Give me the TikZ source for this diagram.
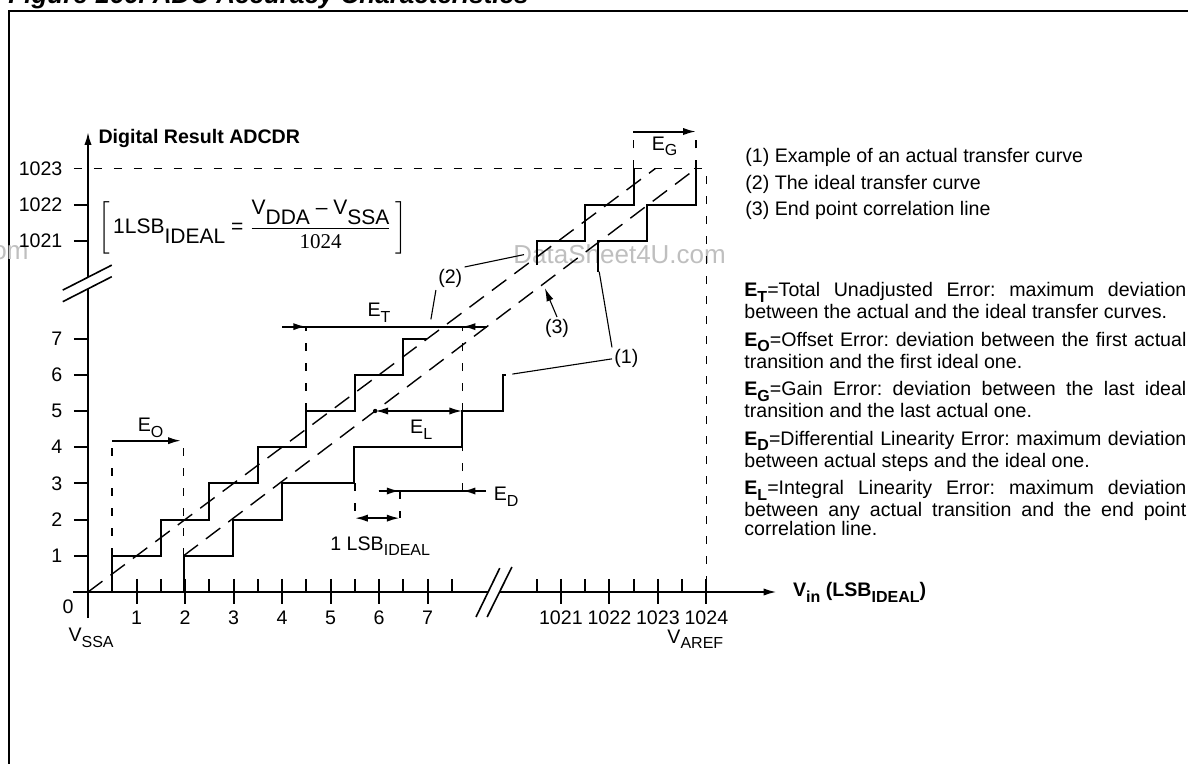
\documentclass[tikz,border=0pt]{standalone}
\usepackage{amsmath}
\usepackage{fontspec}
\setmainfont{Liberation Sans}
\newfontfamily\serifdigits{Liberation Serif}
\usetikzlibrary{arrows.meta}
\frenchspacing
\newcommand{\lo}[1]{\raisebox{-2.8pt}{\fontsize{8}{8}\selectfont #1}}
\newcommand{\dn}[1]{\raisebox{-5pt}{#1}}
\tikzset{
	stair/.style = {line width = 1pt},
	guide/.style = {line width = 0.8pt, dash pattern = on 4pt off 6pt},
	slope/.style = {line width = 0.7pt, dash pattern = on 9pt off 5pt},
	leader/.style = {line width = 0.55pt},
	headed/.style = {-{Latex[length = 6.5pt, width = 3.6pt]}},
	twoheaded/.style = {{Latex[length = 6.5pt, width = 3.6pt]}-{Latex[length = 6.5pt, width = 3.6pt]}},
	watermark/.style = {text = black!25, inner sep = 0, font = \fontsize{13}{13}\selectfont},
	curvelabel/.style = {inner sep = 1pt}
}
\begin{document}
\begin{tikzpicture}[x = 0.5pt, y = -0.5pt, font = \fontsize{9.8}{10}\selectfont]
	\useasboundingbox (0,0) rectangle (1188,764);
	% frame and title
	\draw [line width = 1pt] (9,790) -- (9,11) -- (1210,11);
	\node [anchor = base west, inner sep = 0, font = \fontsize{13}{13}\selectfont\bfseries\itshape] (title) at (8,3.3) {Figure 166. ADC Accuracy Characteristics};
	% watermark
	\node [watermark, anchor = base west] (site) at (513,263.5) {DataSheet4U.com};
	\node [watermark, anchor = base east] (siteleft) at (29,260) {DataSheet4U.com};
	% formula
	\node [font = \fontsize{10.5}{12}\selectfont] (lsb) at (252.5,227.5) {$\left[\,\text{1LSB\dn{IDEAL} = }\dfrac{\text{V\dn{DDA} -- V\dn{SSA}}}{\text{\serifdigits 1024}}\,\right]$};
	% legend
	\node [anchor = base west, inner sep = 0] (key1) at (745,163) {(1) Example of an actual transfer curve};
	\node [anchor = base west, inner sep = 0] (key2) at (745,189.5) {(2) The ideal transfer curve};
	\node [anchor = base west, inner sep = 0] (key3) at (745,216) {(3) End point correlation line};
	% error definitions
	\node [anchor = base west, inner sep = 0] (errors) at (744,296.7) {\parbox[t]{221pt}{\fontsize{9.8}{9.5}\selectfont\setlength{\parskip}{4.3pt}\tolerance=10000 \hyphenpenalty=10000
		\textbf{E\lo{T}}=Total Unadjusted Error: maximum deviation\linebreak between the actual and the ideal transfer curves.\par
		\textbf{E\lo{O}}=Offset Error: deviation between the first actual\linebreak transition and the first ideal one.\par
		\textbf{E\lo{G}}=Gain Error: deviation between the last ideal\linebreak transition and the last actual one.\par
		\textbf{E\lo{D}}=Differential Linearity Error: maximum deviation\linebreak between actual steps and the ideal one.\par
		\textbf{E\lo{L}}=Integral Linearity Error: maximum deviation\linebreak between any actual transition and the end point\linebreak correlation line.}};
	\begin{scope}[shift = {(88,592)}, x = 24.25pt, y = 18.1pt]
	% axes with breaks
	\draw [line width = 1pt] (-0.31,0) -- (8.25,0);
	\draw [line width = 1pt, headed] (8.48,0) -- (14.2,0);
	\draw [line width = 1pt] (0,-0.72) -- (0,8.37);
	\draw [line width = 1pt, headed] (0,8.71) -- (0,12.71);
	\draw [line width = 0.8pt] (8,-0.69) -- (8.49,0.66);
	\draw [line width = 0.8pt] (8.23,-0.69) -- (8.74,0.69);
	\draw [line width = 0.8pt] (-0.52,8.34) -- (0.49,9.03);
	\draw [line width = 0.8pt] (-0.52,8.02) -- (0.49,8.71);
	% ticks and numbers
	\foreach \x in {1,...,7} {
		\draw [line width = 1pt] (\x,0.36) -- (\x,-0.33);
		\node (tx\x) at (\x,-0.72) {\x};
	}
	\foreach \x/\n in {9.75/1021, 10.75/1022, 11.75/1023, 12.75/1024} {
		\draw [line width = 1pt] (\x,0.36) -- (\x,-0.33);
		\node (tx\n) at (\x,-0.72) {\n};
	}
	\foreach \x in {0.5,1.5,...,7.5}
		\draw [line width = 1pt] (\x,0) -- (\x,0.36);
	\foreach \x in {9.25,10.25,11.25,12.25}
		\draw [line width = 1pt] (\x,0) -- (\x,0.36);
	\foreach \y in {1,...,7} {
		\draw [line width = 1pt] (-0.29,\y) -- (0,\y);
		\node [anchor = east, inner sep = 0] (ty\y) at (-0.52,\y) {\y};
	}
	\foreach \y/\n in {9.7/1021, 10.7/1022} {
		\draw [line width = 1pt] (-0.29,\y) -- (0,\y);
		\node [anchor = east, inner sep = 0] (ty\n) at (-0.52,\y) {\n};
	}
	\node [anchor = east, inner sep = 0] (ty1023) at (-0.52,11.7) {1023};
	\node (zero) at (-0.41,-0.41) {0};
	\node [anchor = base west, inner sep = 0] (vssa) at (-0.41,-1.38) {V\lo{SSA}};
	\node [anchor = base west, inner sep = 0] (varef) at (11.94,-1.41) {V\lo{AREF}};
	\node [anchor = base west, inner sep = 0, font = \fontsize{9.8}{10}\selectfont\bfseries] (ylabel) at (0.21,12.39) {Digital Result ADCDR};
	\node [anchor = base west, inner sep = 0, font = \fontsize{9.8}{10}\selectfont\bfseries] (xlabel) at (14.53,-0.13) {V\lo{in} (LSB\lo{IDEAL})};
	% full scale and straight lines
	\draw [guide] (-0.29,11.7) -- (12.75,11.7) -- (12.75,0);
	\draw [slope] (0,0) -- (11.7,11.7);
	\draw [slope] (1.97,1) -- (12.54,11.7);
	% guides of the error arrows
	\draw [guide] (0.5,1) -- (0.5,4.18);
	\draw [guide] (1.97,1) -- (1.97,4.18);
	\draw [guide] (4.5,5) -- (4.5,7.33);
	\draw [guide] (7.72,2.79) -- (7.72,7.33);
	\draw [guide] (5.5,3) -- (5.5,2.04);
	\draw [guide] (6.43,2.79) -- (6.43,2.04);
	\draw [guide] (11.25,11.7) -- (11.25,12.72);
	\draw [guide] (12.54,11.7) -- (12.54,12.72);
	% ideal curve
	\draw [stair] (0.5,0) -- (0.5,1) -- (1.5,1) -- (1.5,2) -- (2.5,2) -- (2.5,3) -- (3.5,3) -- (3.5,4) -- (4.5,4) -- (4.5,5) -- (5.5,5) -- (5.5,6) -- (6.5,6) -- (6.5,7) -- (6.98,7);
	\draw [stair] (9.25,9.03) -- (9.25,9.7) -- (10.25,9.7) -- (10.25,10.7) -- (11.25,10.7) -- (11.25,11.7);
	% actual curve
	\draw [stair] (1.97,0) -- (1.97,1) -- (2.98,1) -- (2.98,2) -- (3.99,2) -- (3.99,3) -- (5.48,3) -- (5.48,4) -- (7.72,4) -- (7.72,5) -- (8.55,5) -- (8.55,6) -- (8.62,6);
	\draw [stair] (10.52,8.84) -- (10.52,9.7) -- (11.53,9.7) -- (11.53,10.7) -- (12.54,10.7) -- (12.54,11.7);
	% error arrows
	\draw [line width = 1pt, headed] (0.5,4.18) -- (1.92,4.18);
	\node [anchor = base] (eo) at (1.29,4.43) {E\lo{O}};
	\draw [line width = 1pt] (4.01,7.33) -- (8.22,7.33);
	\draw [line width = 1pt, headed] (4.01,7.33) -- (4.5,7.33);
	\draw [line width = 1pt, headed] (8.22,7.33) -- (7.72,7.33);
	\node [anchor = base] (et) at (6,7.6) {E\lo{T}};
	\fill (5.92,5) circle (1.1pt);
	\draw [line width = 1pt, twoheaded] (5.92,5) -- (7.72,5);
	\node [anchor = base] (el) at (6.87,4.38) {E\lo{L}};
	\draw [line width = 1pt] (5.99,2.79) -- (8.21,2.79);
	\draw [line width = 1pt, headed] (5.99,2.79) -- (6.43,2.79);
	\draw [line width = 1pt, headed] (8.21,2.79) -- (7.72,2.79);
	\node [anchor = base west, inner sep = 0] (ed) at (8.36,2.52) {E\lo{D}};
	\draw [line width = 1pt, twoheaded] (5.5,2.04) -- (6.43,2.04);
	\node [anchor = base west, inner sep = 0] (lsbunit) at (4.99,1.16) {1 LSB\lo{IDEAL}};
	\draw [line width = 1pt, headed] (11.24,12.72) -- (12.54,12.72);
	\node [anchor = base] (eg) at (11.89,12.2) {E\lo{G}};
	% curve labels
	\node [curvelabel] (one) at (11.1,6.44) {(1)};
	\node [curvelabel] (two) at (7.47,8.66) {(2)};
	\node [curvelabel] (three) at (9.67,7.28) {(3)};
	\draw [leader] (one.west) -- (8.75,6.02);
	\draw [leader] (one.north west) -- (10.54,8.85);
	\draw [leader] (two.north east) -- (8.99,9.32);
	\draw [leader] (two.south west) -- (7.07,7.53);
	\draw [leader, headed] (three.north) -- (9.42,8.39);
	\end{scope}
\end{tikzpicture}
\end{document}
